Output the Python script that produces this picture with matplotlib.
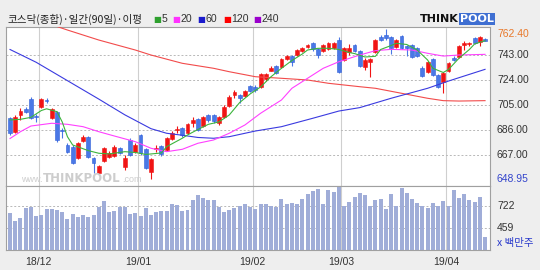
import matplotlib.pyplot as plt
import numpy as np

plt.rcParams['font.family'] = ['Liberation Sans', 'Noto Sans CJK KR', 'DejaVu Sans']

# daily candles (90-day KOSDAQ)
opens = [695.1, 684.5, 697.4, 702.0, 709.6, 696.0, 703.3, 708.8, 695.1, 699.7,
         686.0, 674.6, 673.1, 664.7, 677.6, 680.7, 664.7, 653.3, 662.4, 665.5,
         666.2, 672.3, 657.9, 678.4, 669.3, 682.2, 671.6, 654.1, 671.6, 673.8,
         670.8, 679.2, 686.0, 687.3, 684.0, 691.5, 694.1, 689.0, 697.4, 697.4,
         691.1, 695.7, 704.2, 712.6, 712.6, 711.8, 719.4, 718.9, 718.4, 724.5,
         731.1, 734.6, 733.7, 739.7, 742.2, 743.0, 746.3, 749.3, 752.4, 747.3,
         746.3, 747.3, 748.1, 754.4, 739.2, 745.5, 750.6, 746.0, 733.9, 737.7,
         745.3, 756.7, 758.2, 756.7, 749.1, 757.4, 749.8, 750.6, 748.3, 733.1,
         730.1, 740.0, 727.8, 722.5, 730.8, 740.7, 741.5, 750.6, 751.4, 755.9,
         752.9, 755.2]
closes = [683.7, 695.9, 700.7, 699.7, 695.1, 695.5, 709.3, 708.0, 702.0, 678.4,
          685.2, 669.3, 660.9, 676.1, 680.7, 665.5, 660.9, 658.6, 672.3, 668.5,
          673.1, 668.5, 664.7, 667.0, 674.6, 668.5, 657.1, 664.0, 672.3, 667.8,
          679.9, 683.7, 686.6, 682.2, 690.3, 693.6, 686.0, 695.7, 693.6, 693.1,
          695.7, 703.7, 711.3, 715.1, 710.1, 715.6, 715.9, 716.4, 728.3, 728.3,
          733.4, 729.5, 739.7, 742.2, 737.9, 746.8, 748.1, 750.6, 747.3, 743.0,
          750.6, 752.4, 752.4, 730.3, 748.1, 748.1, 746.3, 734.6, 739.2, 740.0,
          754.4, 754.4, 755.9, 748.3, 754.4, 748.3, 748.3, 741.5, 742.2, 727.0,
          737.7, 727.8, 718.7, 729.3, 736.9, 739.2, 749.8, 752.1, 752.1, 752.1,
          756.7, 753.6]
highs = [695.9, 697.4, 702.7, 703.5, 711.3, 698.2, 710.3, 710.5, 702.7, 700.4,
         687.5, 676.1, 674.6, 677.1, 682.2, 681.4, 665.7, 659.4, 673.1, 670.0,
         674.6, 673.1, 667.0, 679.9, 676.1, 683.0, 672.3, 664.7, 674.6, 674.6,
         680.7, 685.2, 689.0, 688.3, 691.3, 695.9, 695.1, 696.6, 698.2, 698.2,
         696.6, 705.0, 712.6, 716.4, 713.4, 716.4, 720.2, 720.2, 729.3, 729.3,
         734.3, 735.4, 740.7, 743.0, 743.0, 747.6, 749.1, 751.4, 752.9, 748.3,
         751.4, 752.9, 752.9, 756.4, 749.1, 751.4, 751.4, 746.8, 740.7, 740.7,
         755.2, 758.2, 762.4, 757.4, 755.2, 758.2, 750.6, 751.4, 749.1, 734.6,
         738.4, 740.7, 728.6, 730.1, 737.7, 742.2, 750.6, 753.6, 752.9, 756.7,
         757.4, 755.9]
lows = [682.2, 683.7, 693.6, 698.9, 694.4, 692.1, 702.7, 706.3, 694.4, 676.9,
        679.7, 668.5, 660.2, 664.0, 676.9, 664.7, 653.3, 651.8, 661.7, 664.7,
        665.5, 667.8, 655.6, 666.2, 668.5, 667.0, 656.4, 648.95, 669.3, 666.2,
        670.0, 678.4, 683.7, 680.7, 683.0, 688.3, 685.2, 688.3, 692.1, 691.3,
        689.8, 695.1, 703.5, 710.3, 706.5, 711.1, 714.9, 714.9, 717.9, 723.2,
        730.5, 728.6, 733.1, 739.2, 734.6, 742.2, 745.3, 748.3, 746.0, 740.7,
        745.3, 746.8, 747.6, 729.1, 738.4, 743.0, 745.3, 733.9, 731.6, 726.3,
        744.5, 753.6, 754.4, 743.8, 748.3, 747.6, 742.2, 740.7, 741.5, 726.3,
        729.3, 727.0, 717.9, 714.1, 730.1, 738.4, 740.7, 746.8, 749.8, 751.4,
        749.8, 753.6]
# volume, millions of shares
volumes = [637, 548, 584, 698, 714, 608, 617, 689, 689, 677,
           657, 568, 625, 596, 617, 596, 617, 717, 786, 649,
           665, 717, 717, 629, 637, 608, 698, 617, 649, 665,
           665, 750, 734, 665, 677, 795, 855, 819, 795, 795,
           717, 657, 677, 698, 729, 746, 717, 689, 746, 750,
           726, 717, 807, 750, 758, 750, 807, 867, 907, 928,
           750, 919, 899, 968, 726, 770, 838, 879, 859, 726,
           798, 807, 689, 867, 729, 947, 879, 807, 758, 726,
           705, 758, 726, 790, 729, 919, 819, 871, 798, 774,
           838, 354]

# moving averages read at sample days
ma5_day = [0, 2, 4, 6, 7, 9, 10, 11, 12, 15, 17, 19, 22, 24, 26, 29, 30, 33, 34, 36,
           38, 40, 42, 44, 46, 48, 50, 52, 54, 56, 57, 59, 61, 63, 65, 66, 68, 70, 71, 73,
           74, 76, 78, 80, 81, 83, 84, 86, 88, 89, 91]
ma5_val = [693.6, 694.1, 695.6, 700.8, 702.1, 699.9, 692.1, 680.9, 674.6, 670.3,
           668.3, 667.8, 669.5, 668.9, 667.4, 668.5, 673.3, 679.7, 682.2, 686.4,
           690.3, 692.1, 697.4, 706.9, 713.4, 718.7, 726.5, 732.9, 738.8, 743.8,
           746.8, 748.1, 748.1, 747.2, 744.9, 744.1, 741.5, 742.0, 747.2, 750.2,
           751.9, 751.0, 746.8, 739.2, 732.9, 729.7, 732.0, 740.5, 747.2, 751.4, 753.9]
ma20_day = [0, 2, 4, 8, 11, 14, 17, 20, 24, 27, 30, 33, 36, 39, 42, 45, 48, 52, 54, 57,
            60, 63, 67, 70, 73, 77, 80, 83, 86, 91]
ma20_val = [679.5, 684.7, 689.0, 691.1, 690.3, 688.5, 684.7, 681.4, 677.1, 672.1,
            669.5, 671.3, 675.9, 678.4, 683.5, 689.8, 698.7, 708.8, 717.7, 725.3,
            732.9, 737.9, 743.0, 746.3, 747.3, 746.8, 744.3, 742.2, 743.0, 743.5]
ma60_day = [0, 5, 11, 17, 22, 27, 30, 33, 36, 39, 42, 47, 52, 58, 63, 67, 73, 80, 84, 91]
ma60_val = [747.2, 737.5, 723.5, 709.5, 697.5, 687.0, 683.5, 682.0, 680.3, 679.7,
            680.9, 685.2, 688.5, 694.9, 700.4, 703.0, 710.1, 717.7, 723.2, 732.1]
ma120_day = [8, 11, 17, 24, 27, 33, 39, 42, 47, 52, 57, 61, 67, 70, 75, 80, 83, 86, 91]
ma120_val = [766.0, 762.0, 754.4, 746.8, 743.0, 736.7, 732.9, 730.3, 726.5, 725.3,
             724.0, 721.5, 718.9, 717.7, 713.9, 710.1, 708.3, 708.0, 708.3]

month_start = [6, 25, 47, 64, 84]
month_labels = ['18/12', '19/01', '19/02', '19/03', '19/04']
price_grid = [743, 724, 705, 686, 667]
vol_grid = [722, 459]

W, H = 540, 270
def box(x0, y0, x1, y1):
    return [x0 / W, 1 - y1 / H, (x1 - x0) / W, (y1 - y0) / H]

fig = plt.figure(figsize=(5.4, 2.7), dpi=100, facecolor='#EEEEEE')
ax = fig.add_axes(box(6, 27, 490, 186))
axv = fig.add_axes(box(6, 186, 490, 250))

o = np.array(opens); c = np.array(closes)
hi = np.array(highs); lo = np.array(lows)
x = np.arange(len(o))
up = c >= o
dn = ~up
RED = '#F01414'
BLUE = '#4A78E6'

for a in (ax, axv):
    a.set_facecolor('white')
    a.set_xlim(-0.77, 91.95)
    a.set_xticks([])
    a.set_yticks([])
    for s in a.spines.values():
        s.set_color('#A0A0A0')
        s.set_linewidth(0.8)
    for m in month_start:
        a.axvline(m - 0.5, color='#CFCFCF', lw=0.8, zorder=0)

ax.set_ylim(643.4, 764.3)
for g in price_grid:
    ax.axhline(g, color='#B8B8B8', lw=0.7, ls=(0, (2, 2)), zorder=0)

renderer = fig.canvas.get_renderer()

# watermark
wm = fig.text(82 / W, 1 - 182 / H, 'THINKPOOL', color='#CDCDCD', fontsize=8.5,
              fontweight='bold', ha='center', va='baseline', family='DejaVu Sans')
bb = wm.get_window_extent(renderer)
fig.text((bb.x0 - 1) / W, 1 - 182 / H, 'www.', color='#CDCDCD', fontsize=6.5,
         ha='right', va='baseline')
fig.text((bb.x1 + 1) / W, 1 - 182 / H, '.com', color='#CDCDCD', fontsize=6.5,
         ha='left', va='baseline')

body = np.maximum(np.abs(c - o), 0.8)
bottom = np.minimum(o, c)
ax.vlines(x[up], lo[up], hi[up], color=RED, lw=0.8, zorder=2)
ax.vlines(x[dn], lo[dn], hi[dn], color=BLUE, lw=0.8, zorder=2)
ax.bar(x[up], body[up], bottom=bottom[up], width=0.74, color=RED, edgecolor=RED, lw=0.4, zorder=3)
ax.bar(x[dn], body[dn], bottom=bottom[dn], width=0.74, color=BLUE, edgecolor='#2E5ED8', lw=0.4, zorder=3)

ax.plot(ma120_day, ma120_val, color='#F24B4B', lw=0.8, zorder=4)
ax.plot(ma60_day, ma60_val, color='#3A3AE0', lw=0.8, zorder=4)
ax.plot(ma20_day, ma20_val, color='#FF40FF', lw=0.8, zorder=4)
ax.plot(ma5_day, ma5_val, color='#3CB43C', lw=0.8, zorder=4)

# right price labels
tr = ax.get_yaxis_transform()
lx = 1 + 7 / 484
ax.text(lx, 1 - 2 / 159, f'{max(highs):.2f}', transform=ax.transAxes, color='#E8782A',
        fontsize=7.5, ha='left', va='top')
for g in price_grid:
    ax.text(lx, g, f'{g:.2f}', transform=tr, color='#333333', fontsize=7.5, ha='left', va='center')
ax.text(lx, min(lows), f'{min(lows):.2f}', transform=tr, color='#3344CC', fontsize=7.5,
        ha='left', va='center')

# volume
axv.set_ylim(193, 970)
for g in vol_grid:
    axv.axhline(g, color='#B8B8B8', lw=0.7, ls=(0, (2, 2)), zorder=0)
axv.bar(x, volumes, width=0.76, color='#A0ADD8', zorder=2)
trv = axv.get_yaxis_transform()
for g in vol_grid:
    axv.text(lx, g, f'{g}', transform=trv, color='#333333', fontsize=7.5, ha='left', va='center')
fig.text(497 / W, 1 - 243 / H, 'x 백만주', color='#2A3ACC', fontsize=7.5, ha='left', va='center',
         family=['Noto Sans CJK KR', 'DejaVu Sans'])

trx = axv.get_xaxis_transform()
for m, lab in zip(month_start, month_labels):
    axv.text(m - 0.5, -12 / 64, lab, transform=trx, color='#333333', fontsize=7.5,
             ha='center', va='center')

# title
fig.text(7 / W, 1 - 19.5 / H, '코스닥(종합)·일간(90일)·이평', color='#222222', fontsize=7.6,
         ha='left', va='center', family=['Noto Sans CJK KR', 'DejaVu Sans'])
legend = [('5', '#2EA02E', 153), ('20', '#FF33FF', 172), ('60', '#1A1ACC', 197),
          ('120', '#FF0000', 223), ('240', '#9A00CC', 253)]
for lab, col, px in legend:
    sq = fig.text(px / W, 1 - 19.5 / H, '■', color=col, fontsize=6, ha='left', va='center',
                  family='DejaVu Sans')
    sb = sq.get_window_extent(renderer)
    fig.text((sb.x1 + 0.5) / W, 1 - 19.5 / H, lab, color='#333333', fontsize=7.6,
             ha='left', va='center')

# logo
fig.text(420 / W, 1 - 19 / H, 'THINK', color='#111111', fontsize=8, fontweight='bold',
         ha='left', va='center', family='DejaVu Sans')
fig.text(460 / W, 1 - 19 / H, 'POOL', color='white', fontsize=8, fontweight='bold',
         ha='left', va='center', family='DejaVu Sans',
         bbox=dict(boxstyle='square,pad=0.1', facecolor='#3F6FD2', edgecolor='none'))

fig.savefig('out.png', dpi=100, facecolor=fig.get_facecolor())
